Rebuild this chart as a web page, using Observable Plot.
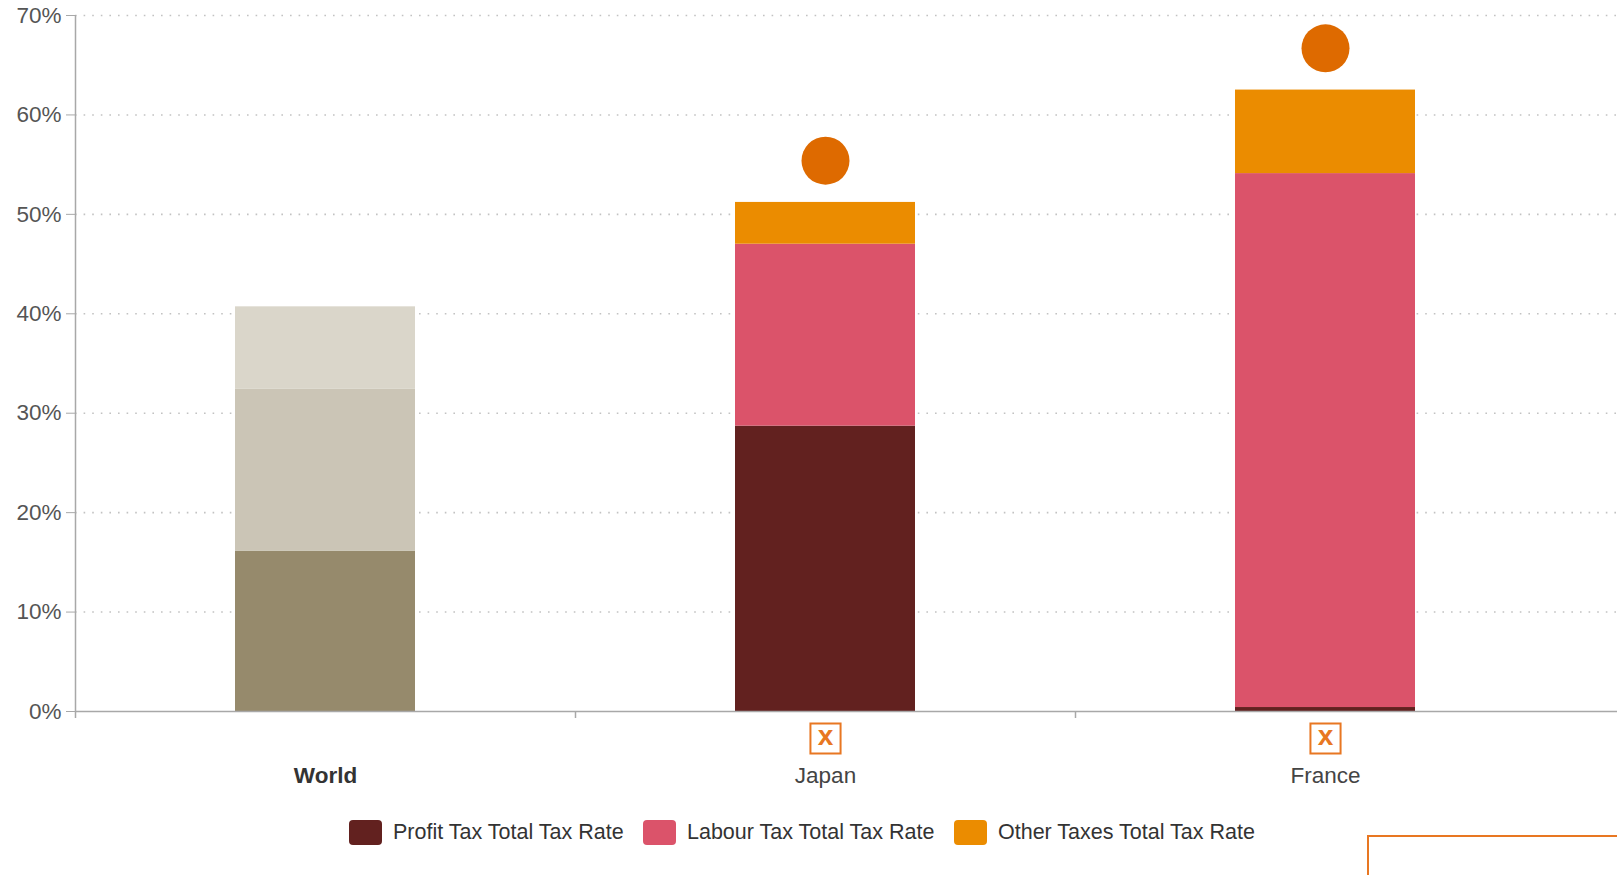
<!DOCTYPE html>
<html><head><meta charset="utf-8">
<script src="https://cdn.jsdelivr.net/npm/d3@7"></script>
<script src="https://cdn.jsdelivr.net/npm/@observablehq/plot@0.6"></script>
<style>
html,body{margin:0;padding:0;background:#fff;overflow:hidden;width:1617px;height:875px;}
#wrap{position:relative;width:1617px;height:875px;font-family:"Liberation Sans",Arial,sans-serif;}
#chart{position:absolute;left:0;top:0;}
.item{position:absolute;top:820px;display:flex;align-items:center;font-size:21.5px;color:#333;white-space:nowrap;}
.sw{width:33px;height:25px;border-radius:4px;margin-right:11px;}
#btn{position:absolute;left:1367px;top:835px;width:300px;height:80px;border:2px solid #e87722;box-sizing:border-box;}
</style></head>
<body><div id="wrap"><div id="chart"></div><div id="legend"></div><div id="btn"></div></div>
<script>
// ---- data ----
const countries = ["World", "Japan", "France"];
const profitTax = [16.1, 28.7, 0.4];
const labourTax = [16.3, 18.3, 53.7];
const otherTax = [8.3, 4.2, 8.4];
const markerTotal = [null, 55.4, 66.7];
const iconCountries = ["Japan", "France"];
const seriesNames = ["Profit Tax Total Tax Rate", "Labour Tax Total Tax Rate", "Other Taxes Total Tax Rate"];
const yTicks = [0, 10, 20, 30, 40, 50, 60, 70];

// ---- styles ----
const worldColors = ["#968a6c", "#cbc5b6", "#dad6ca"];
const countryColors = ["#62211f", "#db536a", "#eb8c00"];
const markerColor = "#de6a00";
const iconColor = "#e87722";

const rows = [];
countries.forEach((c, i) => {
  [profitTax[i], labourTax[i], otherTax[i]].forEach((v, k) => {
    rows.push({country: c, series: seriesNames[k], value: v,
      color: c === "World" ? worldColors[k] : countryColors[k]});
  });
});
const markers = countries.map((c, i) => ({country: c, value: markerTotal[i]})).filter(d => d.value != null);

const xRange = [75, 1575];
const step = (xRange[1] - xRange[0]) / countries.length;

const plot = Plot.plot({
  width: 1617, height: 800,
  marginLeft: 75, marginRight: 0, marginTop: 15, marginBottom: 89,
  style: {fontFamily: "Liberation Sans, Arial, sans-serif", background: "transparent", overflow: "visible"},
  x: {type: "band", domain: countries, range: xRange, paddingInner: 0.64, paddingOuter: 0.32, axis: null, label: null},
  y: {domain: [0, 70], axis: null, label: null},
  color: {type: "identity"},
  marks: [
    Plot.ruleY(yTicks.filter(d => d > 0), {stroke: "#c2c2c2", strokeWidth: 1.6, strokeDasharray: "1.6,7"}),
    Plot.barY(rows, {x: "country", y: "value", fill: "color"}),
    Plot.ruleY([0], {stroke: "#a8a8a8", strokeWidth: 1.5}),
    Plot.ruleX(["World"], {x: d => d, y1: 70, y2: 0, dx: -step / 2, insetBottom: -7, stroke: "#a8a8a8", strokeWidth: 1.5}),
    Plot.ruleX(["Japan", "France"], {x: d => d, y1: 0, y2: 0, dx: -step / 2, insetBottom: -7, stroke: "#a8a8a8", strokeWidth: 1.5}),
    Plot.axisY(yTicks, {label: null, tickFormat: d => d + "%", tickSize: 9, tickPadding: 5, fontSize: 22.5, stroke: "#a8a8a8", fill: "#555"}),
    Plot.dot(markers, {x: "country", y: "value", r: 24, fill: markerColor}),
    Plot.dot(iconCountries, {x: d => d, y: () => 0, dy: 27, symbol: "square", r: 17, fill: "white", stroke: iconColor, strokeWidth: 2}),
    Plot.text(iconCountries, {x: d => d, y: () => 0, dy: 25, text: () => "x", fill: iconColor, fontSize: 28, fontWeight: "bold"}),
    Plot.text(["World"], {x: d => d, y: () => 0, dy: 64, text: d => d, fontSize: 22.5, fontWeight: "bold", fill: "#333"}),
    Plot.text(["Japan", "France"], {x: d => d, y: () => 0, dy: 64, text: d => d, fontSize: 22.5, fill: "#444"})
  ]
});
document.getElementById("chart").appendChild(plot);

// legend
const legendLeft = [349, 643, 954];
const legend = document.getElementById("legend");
seriesNames.forEach((name, k) => {
  const item = document.createElement("div");
  item.className = "item";
  item.style.left = legendLeft[k] + "px";
  item.innerHTML = `<div class="sw" style="background:${countryColors[k]}"></div><span>${name}</span>`;
  legend.appendChild(item);
});
</script>
</body></html>
